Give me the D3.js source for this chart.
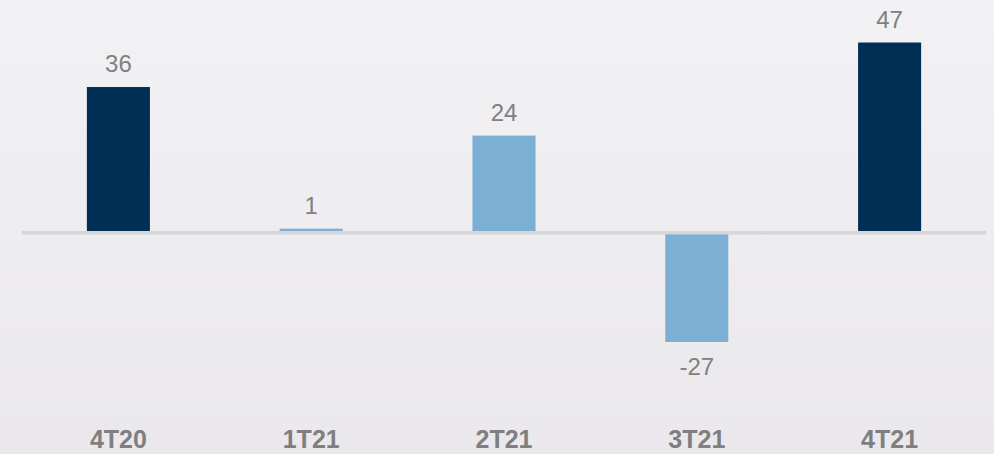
<!DOCTYPE html>
<html>
<head>
<meta charset="utf-8">
<script src="https://cdn.jsdelivr.net/npm/d3@7"></script>
<style>
  html, body { margin: 0; padding: 0; }
  body { width: 994px; height: 454px; overflow: hidden; }
  text { font-family: "Liberation Sans", Arial, sans-serif; }
</style>
</head>
<body>
<svg id="svg"></svg>
<script>
// quarterly values
const quarters = ['4T20', '1T21', '2T21', '3T21', '4T21'];
const values = [36, 1, 24, -27, 47];
const highlight = [true, false, false, false, true]; // dark bars for 4T

const width = 994;
const height = 454;

const svg = d3.select('#svg')
  .attr('width', width)
  .attr('height', height);

// soft grey background, a bit darker toward the bottom
const grad = svg.append('defs').append('linearGradient')
  .attr('id', 'bg')
  .attr('x1', 0).attr('y1', 0).attr('x2', 0).attr('y2', 1);
grad.append('stop').attr('offset', '0%').attr('stop-color', '#f2f1f3');
grad.append('stop').attr('offset', '100%').attr('stop-color', '#eae8ec');

svg.append('rect')
  .attr('width', width)
  .attr('height', height)
  .attr('fill', 'url(#bg)');

const xScale = d3.scaleBand()
  .domain(quarters)
  .range([22, 986])
  .paddingInner(0.673)
  .paddingOuter(0.3365);

const yScale = d3.scaleLinear()
  .domain([d3.min(values), d3.max(values)])
  .range([342, 42.5]);

const data = quarters.map((q, i) => ({ q, v: values[i], dark: highlight[i] }));

const g = svg.append('g');

g.selectAll('rect.bar')
  .data(data)
  .enter()
  .append('rect')
  .attr('class', 'bar')
  .attr('x', d => xScale(d.q))
  .attr('width', xScale.bandwidth())
  .attr('y', d => yScale(Math.max(0, d.v)))
  .attr('height', d => Math.abs(yScale(d.v) - yScale(0)))
  .attr('fill', d => d.dark ? '#002f56' : '#7bafd4');

// zero line
svg.append('line')
  .attr('x1', 22)
  .attr('x2', 986)
  .attr('y1', yScale(0))
  .attr('y2', yScale(0))
  .attr('stroke', '#d6d5d8')
  .attr('stroke-width', 3.5);

// value labels
g.selectAll('text.val')
  .data(data)
  .enter()
  .append('text')
  .attr('class', 'val')
  .attr('x', d => xScale(d.q) + xScale.bandwidth() / 2)
  .attr('y', d => d.v >= 0 ? yScale(d.v) - 15 : yScale(d.v) + 33)
  .attr('text-anchor', 'middle')
  .attr('font-size', '24px')
  .attr('fill', '#808080')
  .text(d => d.v);

// category labels
g.selectAll('text.cat')
  .data(data)
  .enter()
  .append('text')
  .attr('class', 'cat')
  .attr('x', d => xScale(d.q) + xScale.bandwidth() / 2)
  .attr('y', 448)
  .attr('text-anchor', 'middle')
  .attr('font-size', '25px')
  .attr('font-weight', 'bold')
  .attr('fill', '#7f7f7f')
  .text(d => d.q);
</script>
</body>
</html>
